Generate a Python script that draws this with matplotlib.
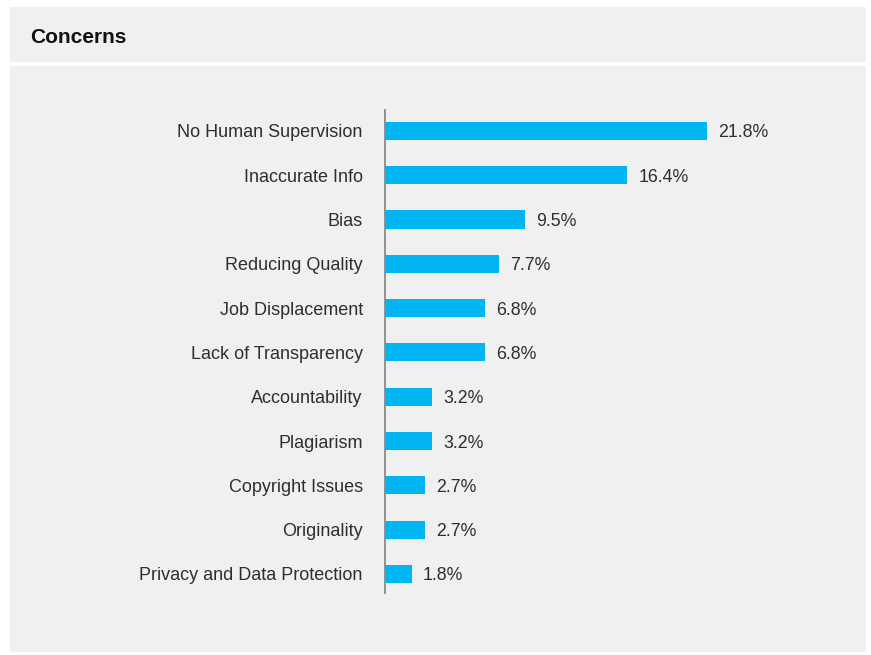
import matplotlib.pyplot as plt
from matplotlib.patches import Rectangle

# Share of respondents naming each concern (%)
concerns = ['No Human Supervision', 'Inaccurate Info', 'Bias', 'Reducing Quality',
            'Job Displacement', 'Lack of Transparency', 'Accountability', 'Plagiarism',
            'Copyright Issues', 'Originality', 'Privacy and Data Protection']
shares = [21.8, 16.4, 9.5, 7.7, 6.8, 6.8, 3.2, 3.2, 2.7, 2.7, 1.8]

W, H = 871, 655
panel_color = '#f1f0f1'
bar_color = '#00b5f1'
text_color = '#2e2e2e'
plt.rcParams['font.family'] = ['Liberation Sans', 'DejaVu Sans']

fig = plt.figure(figsize=(W / 100, H / 100), dpi=100)
fig.patch.set_facecolor('white')

# header strip and body panel, kept behind the axes
fig.add_artist(Rectangle((10 / W, 1 - 62 / H), 856 / W, 55 / H, zorder=-10,
                         transform=fig.transFigure, facecolor=panel_color, edgecolor='none'))
fig.add_artist(Rectangle((10 / W, 1 - 652 / H), 856 / W, 586 / H, zorder=-10,
                         transform=fig.transFigure, facecolor=panel_color, edgecolor='none'))
fig.text(30 / W, 1 - 35.5 / H, 'Concerns', fontsize=15, fontweight='bold',
         color='#111111', va='center_baseline', ha='left')

ax = fig.add_axes([385 / W, 1 - 593 / H, 481 / W, 483 / H])
ax.set_facecolor('none')
pos = list(range(len(concerns)))
ax.barh(pos, shares, height=0.41, color=bar_color)
for p, v in zip(pos, shares):
    ax.text(v + 0.75, p, f'{v}%', va='center_baseline', ha='left', fontsize=12.8,
            color=text_color)

ax.set_xlim(0, 32.56)
ax.set_ylim(10.43, -0.47)
ax.set_yticks(pos)
ax.set_yticklabels(concerns, fontsize=13, color=text_color, va='center_baseline')
ax.tick_params(axis='y', length=0, pad=16)
ax.set_xticks([])
for s in ['top', 'right', 'bottom']:
    ax.spines[s].set_visible(False)
ax.spines['left'].set_color('#8a8a8a')
ax.spines['left'].set_linewidth(1.3)

fig.savefig('out.png', dpi=100, facecolor=fig.get_facecolor())
